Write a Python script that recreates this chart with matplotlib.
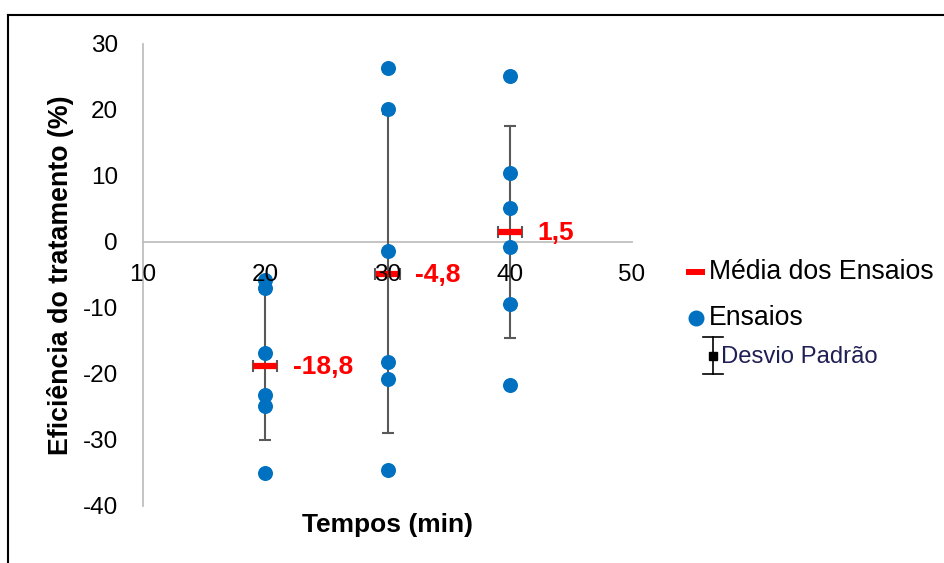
import matplotlib
matplotlib.use("Agg")
import matplotlib.pyplot as plt
from matplotlib.lines import Line2D

plt.rcParams['font.family'] = ['Liberation Sans', 'DejaVu Sans']
plt.rcParams['axes.unicode_minus'] = False

# ---- data ----
tempos = [20, 30, 40]
ensaios_20 = [-5.8, -7.0, -16.8, -23.2, -24.8, -35.0]
ensaios_30 = [26.3, 20.1, -1.3, -18.2, -20.8, -34.6]
ensaios_40 = [25.2, 10.5, 5.1, -0.8, -9.4, -21.6]
medias = [-18.8, -4.8, 1.5]
desvios = [11.2, 24.2, 16.1]
x_ticks = [10, 20, 30, 40, 50]
y_ticks = [30, 20, 10, 0, -10, -20, -30, -40]

W, H = 944, 563
fig = plt.figure(figsize=(W / 100, H / 100), dpi=100)
ax = fig.add_axes([143 / W, 57 / H, 489 / W, 462 / H])

BLUE = '#0070C0'
RED = '#FF0000'
GRAY = '#595959'
AXGRAY = '#BFBFBF'

# standard deviation bars
ax.errorbar(tempos, medias, yerr=desvios, fmt='none', ecolor=GRAY,
            elinewidth=1.5, capsize=4.3, capthick=1.5, zorder=1.8)
# small horizontal bars of the mean marker
ax.errorbar(tempos, medias, xerr=[1.0] * len(tempos), fmt='none', ecolor=GRAY,
            elinewidth=1.5, capsize=4.5, capthick=1.5, zorder=1.8)

# individual trials
for t, vals in zip(tempos, [ensaios_20, ensaios_30, ensaios_40]):
    ax.plot([t] * len(vals), vals, 'o', color=BLUE, markersize=10.8,
            markeredgewidth=0, zorder=2)

# means
ax.plot(tempos, medias, '_', color=RED, markersize=17, markeredgewidth=4.5,
        zorder=2.1)
for t, m in zip(tempos, medias):
    ax.annotate(f"{m:.1f}".replace('.', ','), xy=(t, m), xytext=(20, -1),
                textcoords='offset points', ha='left', va='center',
                color=RED, fontsize=19, fontweight='bold', zorder=3)

ax.set_xlim(10, 50)
ax.set_ylim(-40, 30)
ax.set_xticks(x_ticks)
ax.set_yticks(y_ticks)
ax.set_axisbelow(False)

for s in ['top', 'right']:
    ax.spines[s].set_visible(False)
ax.spines['bottom'].set_position(('data', 0))
for s in ['bottom', 'left']:
    ax.spines[s].set_color(AXGRAY)
    ax.spines[s].set_linewidth(1.3)
    ax.spines[s].set_zorder(1)

ax.tick_params(axis='x', length=0, pad=16, labelsize=17.5)
ax.tick_params(axis='y', length=0, pad=18, labelsize=17.5)

# axis titles
fig.text(61 / W, 1 - 275 / H, 'Eficiência do tratamento (%)', rotation=90,
         ha='center', va='center', fontsize=19.3, fontweight='bold')
fig.text(388 / W, 1 - 525 / H, 'Tempos (min)', ha='center', va='center',
         fontsize=19, fontweight='bold')

# manual legend
def fx(px):
    return px / W

def fy(py):
    return 1 - py / H

fig.add_artist(Line2D([fx(686), fx(705)], [fy(272)] * 2, color=RED, lw=4.3,
                      solid_capstyle='butt', transform=fig.transFigure))
fig.text(fx(709), fy(272), 'Média dos Ensaios', ha='left', va='center',
         fontsize=19.2)
fig.add_artist(Line2D([fx(696)], [fy(318)], marker='o', color=BLUE,
                      markersize=11.5, markeredgewidth=0,
                      transform=fig.transFigure))
fig.text(fx(709), fy(318), 'Ensaios', ha='left', va='center', fontsize=19.2)
# error bar icon
fig.add_artist(Line2D([fx(713)] * 2, [fy(337), fy(374)], color='black', lw=1.2,
                      transform=fig.transFigure))
for cy in (337, 374):
    fig.add_artist(Line2D([fx(703), fx(723)], [fy(cy)] * 2, color='black',
                          lw=1.2, transform=fig.transFigure))
fig.add_artist(Line2D([fx(713)], [fy(356)], marker='s', color='black',
                      markersize=5.5, transform=fig.transFigure))
fig.text(fx(721), fy(357), 'Desvio Padrão', ha='left', va='center',
         fontsize=17.2, color='#1F1F55')

# outer frame (top and left edges visible)
fig.add_artist(Line2D([fx(8), fx(8)], [0, fy(15)], color='black', lw=1.5,
                      transform=fig.transFigure))
fig.add_artist(Line2D([fx(8), 1], [fy(15), fy(15)], color='black', lw=1.5,
                      transform=fig.transFigure))

fig.savefig('out.png', dpi=100)
